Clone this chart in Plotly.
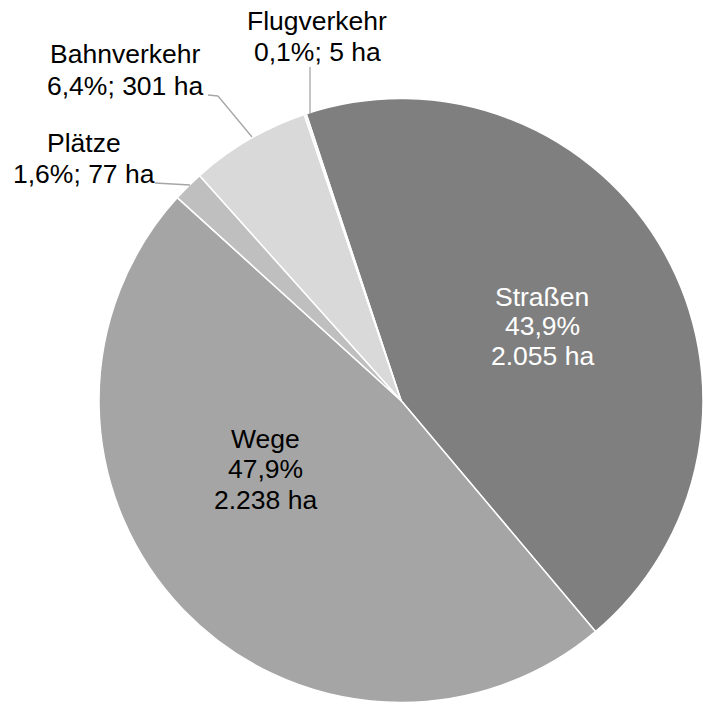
import plotly.graph_objects as go

# ---- data ----
categories = ["Straßen", "Wege", "Plätze", "Bahnverkehr", "Flugverkehr"]
hectares = [2055, 2238, 77, 301, 5]
pct_labels = ["43,9%", "47,9%", "1,6%", "6,4%", "0,1%"]
ha_labels = ["2.055 ha", "2.238 ha", "77 ha", "301 ha", "5 ha"]

# ---- styling / layout ----
W, H = 703, 706
colors = ["#7f7f7f", "#a5a5a5", "#bfbfbf", "#d9d9d9", "#eeeeee"]
FONT = "Liberation Sans, Arial, sans-serif"
FS = 26.5

# label line centres in pixels: (x, [y per line]), colour
label_pos = {
    "Straßen": (542, [297, 326, 356], "white"),
    "Wege": (265, [439, 469, 500], "black"),
    "Plätze": (84, [143, 174], "black"),
    "Bahnverkehr": (125, [54, 86], "black"),
    "Flugverkehr": (317, [21, 52], "black"),
}
inside = {"Straßen", "Wege"}

# leader lines (pixel polylines)
leaders = [
    [(155, 183), (190, 185)],
    [(208, 95), (218, 96), (252, 137)],
    [(310, 67), (310, 114)],
]

fig = go.Figure(go.Pie(
    labels=categories,
    values=hectares,
    sort=False,
    direction="clockwise",
    rotation=-18.3,
    marker=dict(colors=colors, line=dict(color="white", width=1.5)),
    textinfo="none",
    hoverinfo="label+value+percent",
    showlegend=False,
    domain=dict(x=[99 / W, 1.0], y=[2 / H, 609 / H]),
))

annotations = []
for name, pct, ha in zip(categories, pct_labels, ha_labels):
    x, ys, col = label_pos[name]
    lines = [name, pct, ha] if name in inside else [name, f"{pct}; {ha}"]
    for txt, y in zip(lines, ys):
        annotations.append(dict(
            text=txt, x=x / W, y=1 - y / H, xref="paper", yref="paper",
            xanchor="center", yanchor="middle", showarrow=False,
            font=dict(family=FONT, size=FS, color=col),
        ))

shapes = []
for pts in leaders:
    for (x0, y0), (x1, y1) in zip(pts[:-1], pts[1:]):
        shapes.append(dict(
            type="line", xref="paper", yref="paper",
            x0=x0 / W, y0=1 - y0 / H, x1=x1 / W, y1=1 - y1 / H,
            line=dict(color="#a6a6a6", width=1.3),
        ))

fig.update_layout(
    width=W, height=H, autosize=False,
    margin=dict(l=0, r=0, t=0, b=0),
    paper_bgcolor="white", plot_bgcolor="white",
    annotations=annotations, shapes=shapes,
    font=dict(family=FONT),
)

fig.write_html(
    "out.html",
    config={"displayModeBar": False},
    post_script="document.body.style.margin='0';document.body.style.overflow='hidden';",
)
